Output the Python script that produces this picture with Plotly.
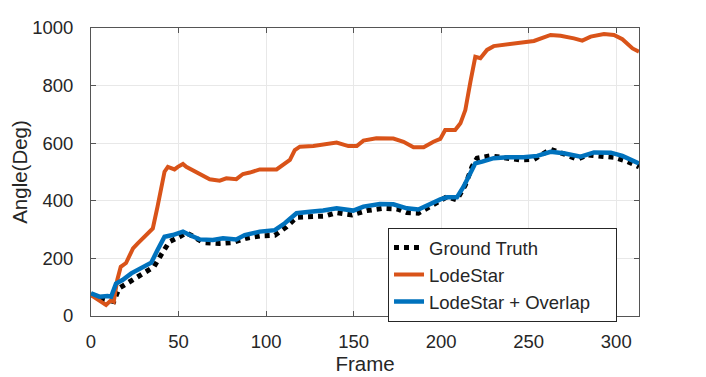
import plotly.graph_objects as go

# Ground truth
gt_frame = [0, 5, 9.5, 13, 16, 22, 28.6, 36, 40, 44.8, 50.6, 54.4, 58, 64, 73.5, 81, 88.8, 96.4, 105,
            111.7, 117.4, 125, 133.6, 140.3, 149, 157.5, 167, 174.7, 180.4, 187, 193.7, 199.5, 203.3,
            209, 213.8, 217.6, 220.5, 228, 235.7, 245.3, 253, 262.5, 270, 277.8, 283.5, 291, 298.7,
            306.4, 313]
gt_angle = [76, 61, 55, 50, 96, 119, 142, 171, 212, 258, 275, 289, 278, 255, 252, 255, 270, 278, 280,
            310, 343, 343, 347, 359, 351, 366, 374, 372, 359, 357, 380, 400, 414,
            403, 455, 518, 548, 556, 551, 542, 544, 579, 563, 544, 559, 553, 551,
            536, 518]

# LodeStar
ls_frame = [0, 8.6, 11.5, 13, 15, 17, 20, 24, 26.7, 31.5, 35.3, 38, 40, 42, 43.9, 47.7, 49.6, 52.5,
            54.4, 58.2, 63, 67.8, 73.5, 77.3, 83, 86.8, 90.7, 96.4, 106, 109.7, 113.6, 116.4, 119.3,
            127, 133.6, 140.3, 147, 151.8, 155.6, 163, 172.7, 178.5, 184.2, 190, 195.6, 199.5, 202.3,
            208, 211, 213.8, 216.7, 219.5, 222.4, 226.2, 230, 237.7, 245.3, 253, 262.5, 268.2, 275.8,
            280.6, 285.4, 293, 298.7, 303.5, 309.3, 313]
ls_angle = [73, 38, 55, 50, 125, 171, 184, 235, 252, 281, 304, 380, 437, 501, 518, 509, 518, 528,
            518, 505, 490, 475, 470, 478, 475, 493, 498, 509, 509, 524, 542, 576, 588,
            590, 597, 602, 590, 590, 609, 617, 616, 605, 586, 586, 605, 615, 646,
            646, 669, 715, 813, 900, 895, 924, 937, 944, 949, 955, 976, 973, 964,
            956, 970, 979, 976, 961, 929, 918]

# LodeStar + Overlap
ov_frame = [0, 4.8, 9.5, 11.5, 14.3, 18, 23, 28.6, 34.4, 38, 42, 46.7, 52.5, 56.3, 62, 69.6, 75.4,
            83, 87.8, 96.4, 105, 110.7, 117.4, 125, 132.6, 140.3, 149.8, 155.6, 165, 172.7, 180.4,
            187, 193.7, 199.5, 203.3, 209, 212.8, 216.7, 219.5, 223.4, 230, 237.7, 247, 254.9, 262.5,
            270, 279.7, 287.3, 296.9, 303.5, 313]
ov_angle = [79, 67, 69, 67, 113, 125, 148, 166, 185, 229, 275, 281, 293, 281, 266, 264, 270,
            266, 281, 293, 298, 322, 357, 362, 366, 374, 366, 380, 389, 388, 374,
            370, 391, 405, 412, 412, 449, 495, 530, 536, 548, 551, 551, 556, 570,
            565, 553, 568, 567, 556, 530]

x_ticks = [0, 50, 100, 150, 200, 250, 300]
y_ticks = [0, 200, 400, 600, 800, 1000]

fig = go.Figure()
fig.add_trace(go.Scatter(x=gt_frame, y=gt_angle, mode="lines", name="Ground Truth",
                         line=dict(color="black", width=5, dash="dot")))
fig.add_trace(go.Scatter(x=ls_frame, y=ls_angle, mode="lines", name="LodeStar",
                         line=dict(color="#D95319", width=4)))
# trailing nbsp gives the legend box the wider right padding of the original
fig.add_trace(go.Scatter(x=ov_frame, y=ov_angle, mode="lines",
                         name="LodeStar + Overlap\u00a0\u00a0\u00a0\u00a0",
                         line=dict(color="#0072BD", width=4.5)))

axis_style = dict(showline=True, linecolor="#555555", linewidth=1, mirror="ticks",
                  ticks="inside", ticklen=5, tickcolor="#555555",
                  showgrid=True, gridcolor="#e8e8e8", zeroline=False, automargin=False,
                  tickfont=dict(size=18.5, color="#262626"))

fig.update_xaxes(range=[0, 313], tickvals=x_ticks, ticklabelstandoff=9,
                 title=dict(text="Frame", font=dict(size=20.5, color="#262626"), standoff=2),
                 **axis_style)
fig.update_yaxes(range=[0, 1000], tickvals=y_ticks, ticklabelstandoff=13,
                 title=dict(text="Angle(Deg)", font=dict(size=20.5, color="#262626"), standoff=4),
                 **axis_style)

# page body adds 8px offset, so margins are trimmed to keep the plot area in place
fig.update_layout(
    width=698, height=369,
    margin=dict(l=83, r=67, t=20, b=61),
    plot_bgcolor="white", paper_bgcolor="white",
    font=dict(family="Liberation Sans, Arial, sans-serif", color="#262626"),
    legend=dict(x=0.542, y=0.306, xanchor="left", yanchor="top",
                bordercolor="#262626", borderwidth=1, bgcolor="white",
                font=dict(size=18.5), tracegroupgap=0, itemwidth=30),
    showlegend=True,
)

fig.write_html("out.html")
